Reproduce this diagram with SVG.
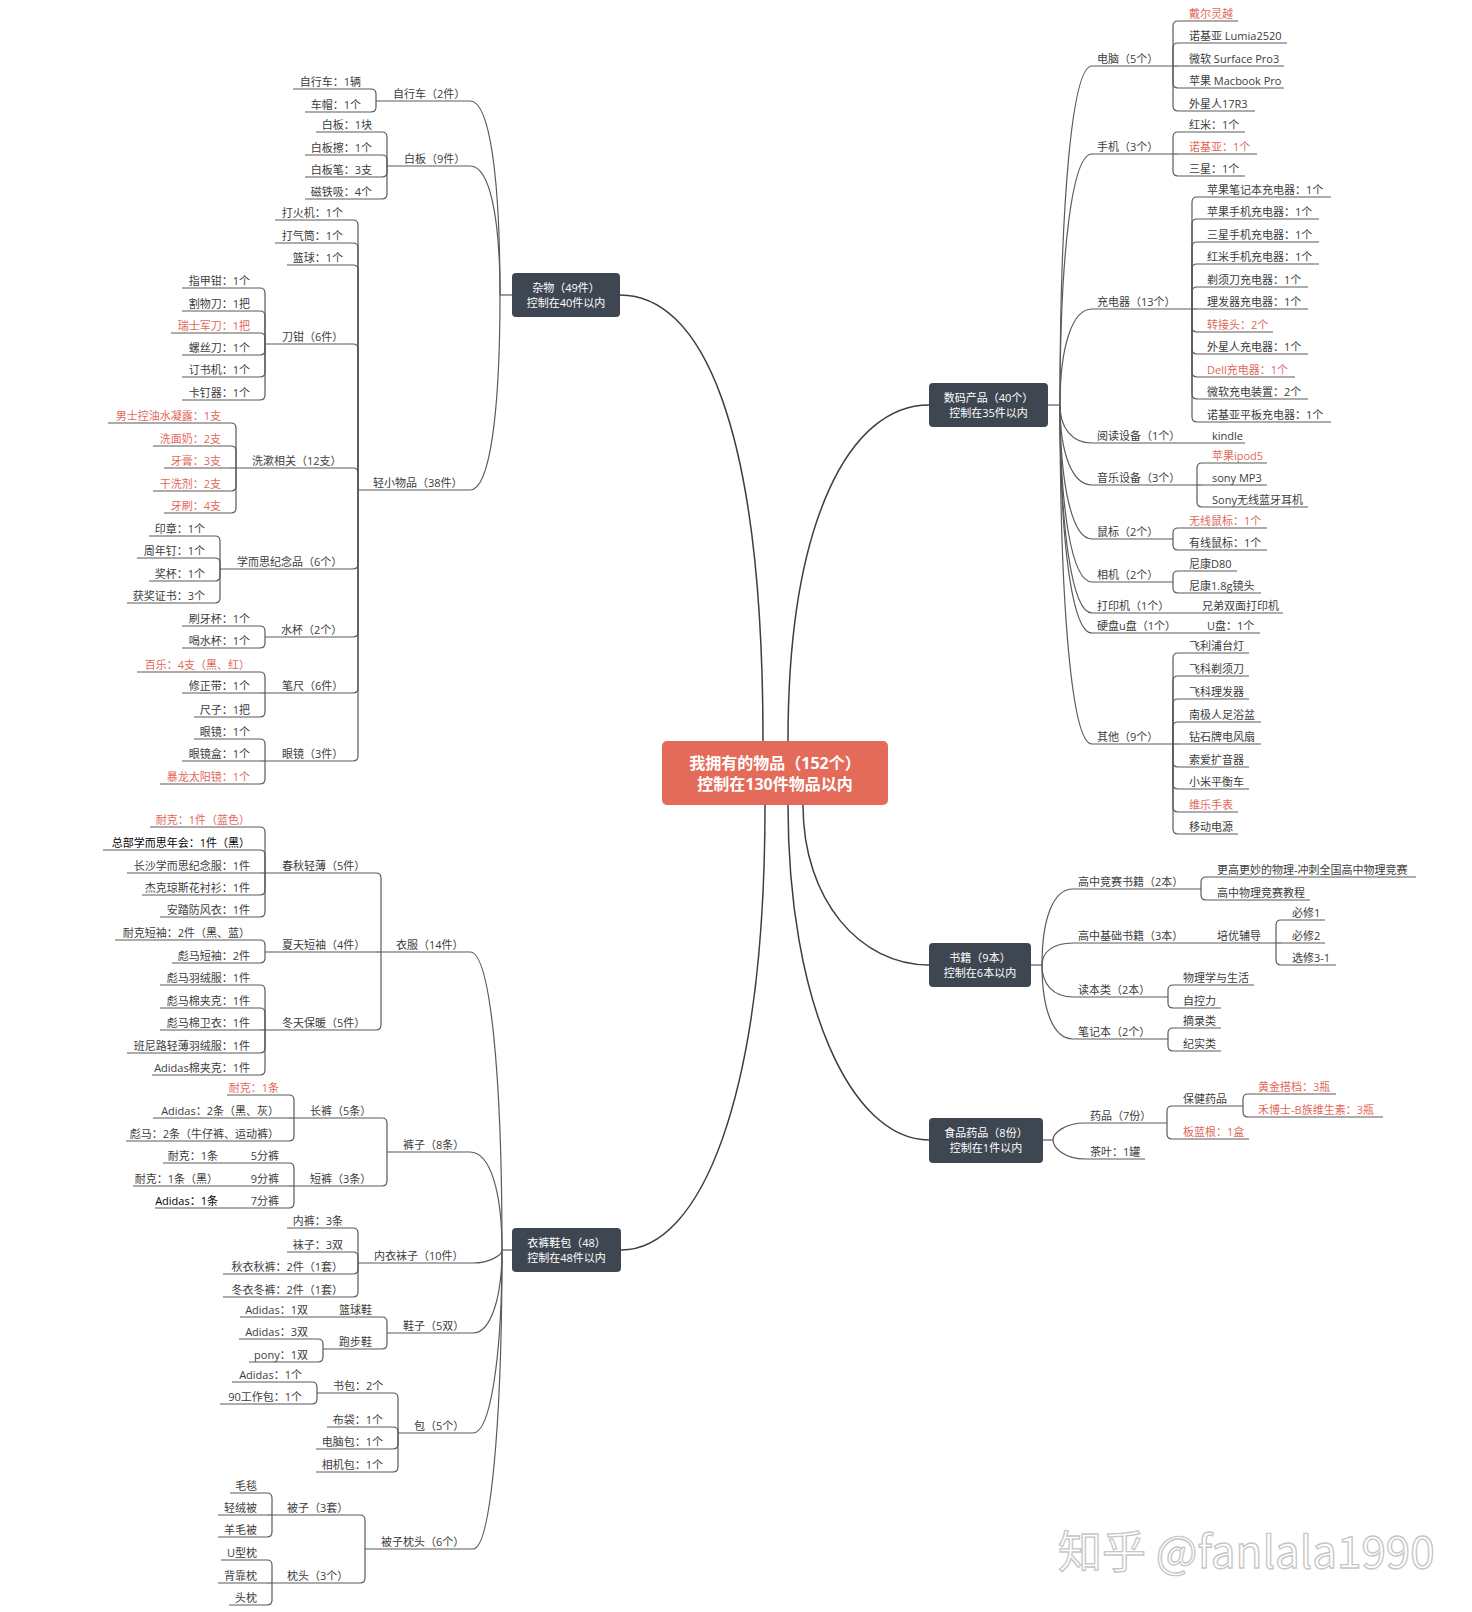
<svg xmlns="http://www.w3.org/2000/svg" width="1472" height="1612" viewBox="0 0 1472 1612">
<style>
.t{font-family:"Open Sans","Noto Sans CJK SC",sans-serif;font-size:11px;fill:#3c3c3c}
.e{text-anchor:end}
.r{fill:#E2685B}
.k{fill:#000}
.u{stroke:#5a5a5a;stroke-width:1.2;fill:none}
#connectors path{stroke:#5a5a5a;stroke-width:1.2;fill:none}
#connectors path.m{stroke:#3a3f47;stroke-width:1.5}
.box{fill:#3E4651}
.bt{font-family:"Open Sans","Noto Sans CJK SC",sans-serif;font-size:11px;fill:#fff;text-anchor:middle}
.ct{font-family:"Open Sans","Noto Sans CJK SC",sans-serif;font-size:16px;font-weight:bold;fill:#fff;text-anchor:middle}
</style>
<rect width="1472" height="1612" fill="#fff"/>
<g id="connectors">
<path class="m" d="M620,295 C700,295 763,420 763,741"/>
<path class="m" d="M621,1250 C700,1250 765,1100 765,805"/>
<path class="m" d="M929,405 C850,405 788,520 788,741"/>
<path class="m" d="M929,965 C860,965 803,900 803,805"/>
<path class="m" d="M929,1140 C850,1140 788,1000 788,805"/>
<path d="M512,295H500"/>
<path d="M470,101 C490,101 500,179 500,295"/>
<path d="M470,166 C490,166 500,218 500,295"/>
<path d="M470,490 C490,490 500,412 500,295"/>
<path d="M512,1250H502"/>
<path d="M470,952 C490,952 502,1071 502,1250"/>
<path d="M470,1152 C490,1152 502,1191 502,1250"/>
<path d="M473,1263 C490,1263 502,1255 502,1250"/>
<path d="M473,1333 C490,1333 502,1300 502,1250"/>
<path d="M473,1433 C490,1433 502,1360 502,1250"/>
<path d="M473,1549 C490,1549 502,1430 502,1250"/>
<path d="M1048,405H1060"/>
<path d="M1092,66 C1072,66 1060,202 1060,405"/>
<path d="M1092,154 C1072,154 1060,254 1060,405"/>
<path d="M1092,309 C1072,309 1060,347 1060,405"/>
<path d="M1092,443 C1072,443 1060,428 1060,405"/>
<path d="M1092,485 C1072,485 1060,453 1060,405"/>
<path d="M1092,539 C1072,539 1060,485 1060,405"/>
<path d="M1092,582 C1072,582 1060,511 1060,405"/>
<path d="M1092,613 C1072,613 1060,530 1060,405"/>
<path d="M1092,633 C1072,633 1060,542 1060,405"/>
<path d="M1092,744 C1072,744 1060,608 1060,405"/>
<path d="M1031,965H1042"/>
<path d="M1073,889 C1053,889 1042,919 1042,965"/>
<path d="M1073,943 C1053,943 1042,952 1042,965"/>
<path d="M1073,997 C1053,997 1042,984 1042,965"/>
<path d="M1073,1039 C1053,1039 1042,1009 1042,965"/>
<path d="M1043,1140H1053"/>
<path d="M1085,1123 C1065,1123 1053,1133 1053,1140"/>
<path d="M1085,1159 C1065,1159 1053,1148 1053,1140"/>
<path d="M371,89Q376,89 376,94V101"/>
<path d="M371,112Q376,112 376,107V101"/>
<path d="M382,132Q387,132 387,137V166"/>
<path d="M382,155Q387,155 387,160V166"/>
<path d="M382,177Q387,177 387,172V166"/>
<path d="M382,199Q387,199 387,194V166"/>
<path d="M353,220Q358,220 358,225V490"/>
<path d="M353,243Q358,243 358,248V490"/>
<path d="M353,265Q358,265 358,270V490"/>
<path d="M353,344Q358,344 358,349V490"/>
<path d="M353,468Q358,468 358,473V490"/>
<path d="M353,569Q358,569 358,564V490"/>
<path d="M353,637Q358,637 358,632V490"/>
<path d="M353,693Q358,693 358,688V490"/>
<path d="M353,761Q358,761 358,756V490"/>
<path d="M260,288Q265,288 265,293V344"/>
<path d="M260,311Q265,311 265,316V344"/>
<path d="M260,333Q265,333 265,338V344"/>
<path d="M260,355Q265,355 265,350V344"/>
<path d="M260,377Q265,377 265,372V344"/>
<path d="M260,400Q265,400 265,395V344"/>
<path d="M231,423Q236,423 236,428V468"/>
<path d="M231,446Q236,446 236,451V468"/>
<path d="M231,468H236"/>
<path d="M231,491Q236,491 236,486V468"/>
<path d="M231,513Q236,513 236,508V468"/>
<path d="M215,536Q220,536 220,541V569"/>
<path d="M215,558Q220,558 220,563V569"/>
<path d="M215,581Q220,581 220,576V569"/>
<path d="M215,603Q220,603 220,598V569"/>
<path d="M260,626Q265,626 265,631V637"/>
<path d="M260,648Q265,648 265,643V637"/>
<path d="M260,672Q265,672 265,677V693"/>
<path d="M260,693H265"/>
<path d="M260,717Q265,717 265,712V693"/>
<path d="M260,739Q265,739 265,744V761"/>
<path d="M260,761H265"/>
<path d="M260,784Q265,784 265,779V761"/>
<path d="M376,873Q381,873 381,878V952"/>
<path d="M376,952H381"/>
<path d="M376,1030Q381,1030 381,1025V952"/>
<path d="M260,827Q265,827 265,832V873"/>
<path d="M260,850Q265,850 265,855V873"/>
<path d="M260,873H265"/>
<path d="M260,895Q265,895 265,890V873"/>
<path d="M260,917Q265,917 265,912V873"/>
<path d="M260,940Q265,940 265,945V952"/>
<path d="M260,963Q265,963 265,958V952"/>
<path d="M260,985Q265,985 265,990V1030"/>
<path d="M260,1008Q265,1008 265,1013V1030"/>
<path d="M260,1030H265"/>
<path d="M260,1053Q265,1053 265,1048V1030"/>
<path d="M260,1075Q265,1075 265,1070V1030"/>
<path d="M382,1118Q387,1118 387,1123V1152"/>
<path d="M382,1186Q387,1186 387,1181V1152"/>
<path d="M289,1095Q294,1095 294,1100V1118"/>
<path d="M289,1118H294"/>
<path d="M289,1141Q294,1141 294,1136V1118"/>
<path d="M289,1163Q294,1163 294,1168V1186"/>
<path d="M289,1186H294"/>
<path d="M289,1208Q294,1208 294,1203V1186"/>
<path d="M353,1228Q358,1228 358,1233V1263"/>
<path d="M353,1252Q358,1252 358,1257V1263"/>
<path d="M353,1274Q358,1274 358,1269V1263"/>
<path d="M353,1297Q358,1297 358,1292V1263"/>
<path d="M382,1317Q387,1317 387,1322V1333"/>
<path d="M382,1349Q387,1349 387,1344V1333"/>
<path d="M318,1339Q323,1339 323,1344V1349"/>
<path d="M318,1362Q323,1362 323,1357V1349"/>
<path d="M393,1393Q398,1393 398,1398V1433"/>
<path d="M393,1427Q398,1427 398,1432V1433"/>
<path d="M393,1449Q398,1449 398,1444V1433"/>
<path d="M393,1472Q398,1472 398,1467V1433"/>
<path d="M312,1382Q317,1382 317,1387V1393"/>
<path d="M312,1404Q317,1404 317,1399V1393"/>
<path d="M360,1515Q365,1515 365,1520V1549"/>
<path d="M360,1583Q365,1583 365,1578V1549"/>
<path d="M267,1493Q272,1493 272,1498V1515"/>
<path d="M267,1515H272"/>
<path d="M267,1537Q272,1537 272,1532V1515"/>
<path d="M267,1560Q272,1560 272,1565V1583"/>
<path d="M267,1583H272"/>
<path d="M267,1605Q272,1605 272,1600V1583"/>
<path d="M1178,21Q1173,21 1173,26V66"/>
<path d="M1178,43Q1173,43 1173,48V66"/>
<path d="M1178,66H1173"/>
<path d="M1178,88Q1173,88 1173,83V66"/>
<path d="M1178,111Q1173,111 1173,106V66"/>
<path d="M1178,132Q1173,132 1173,137V154"/>
<path d="M1178,154H1173"/>
<path d="M1178,176Q1173,176 1173,171V154"/>
<path d="M1197,197Q1192,197 1192,202V309"/>
<path d="M1197,219Q1192,219 1192,224V309"/>
<path d="M1197,242Q1192,242 1192,247V309"/>
<path d="M1197,264Q1192,264 1192,269V309"/>
<path d="M1197,287Q1192,287 1192,292V309"/>
<path d="M1197,309H1192"/>
<path d="M1197,332Q1192,332 1192,327V309"/>
<path d="M1197,354Q1192,354 1192,349V309"/>
<path d="M1197,377Q1192,377 1192,372V309"/>
<path d="M1197,399Q1192,399 1192,394V309"/>
<path d="M1197,422Q1192,422 1192,417V309"/>
<path d="M1202,463Q1197,463 1197,468V485"/>
<path d="M1202,485H1197"/>
<path d="M1202,507Q1197,507 1197,502V485"/>
<path d="M1178,528Q1173,528 1173,533V539"/>
<path d="M1178,550Q1173,550 1173,545V539"/>
<path d="M1178,571Q1173,571 1173,576V582"/>
<path d="M1178,593Q1173,593 1173,588V582"/>
<path d="M1178,653Q1173,653 1173,658V744"/>
<path d="M1178,676Q1173,676 1173,681V744"/>
<path d="M1178,699Q1173,699 1173,704V744"/>
<path d="M1178,722Q1173,722 1173,727V744"/>
<path d="M1178,744H1173"/>
<path d="M1178,767Q1173,767 1173,762V744"/>
<path d="M1178,789Q1173,789 1173,784V744"/>
<path d="M1178,812Q1173,812 1173,807V744"/>
<path d="M1178,834Q1173,834 1173,829V744"/>
<path d="M1206,877Q1201,877 1201,882V889"/>
<path d="M1206,900Q1201,900 1201,895V889"/>
<path d="M1281,920Q1276,920 1276,925V943"/>
<path d="M1281,943H1276"/>
<path d="M1281,965Q1276,965 1276,960V943"/>
<path d="M1173,985Q1168,985 1168,990V997"/>
<path d="M1173,1008Q1168,1008 1168,1003V997"/>
<path d="M1173,1028Q1168,1028 1168,1033V1039"/>
<path d="M1173,1051Q1168,1051 1168,1046V1039"/>
<path d="M1172,1106Q1167,1106 1167,1111V1123"/>
<path d="M1172,1139Q1167,1139 1167,1134V1123"/>
<path d="M1248,1094Q1243,1094 1243,1099V1106"/>
<path d="M1248,1117Q1243,1117 1243,1112V1106"/>
</g>

<g id="root"><rect x="662" y="741" width="226" height="64" rx="5" fill="#E46B5A"/><text class="ct" x="775" y="769">我拥有的物品（152个）</text><text class="ct" x="775" y="790">控制在130件物品以内</text></g>
<g id="n-zawu"><rect class="box" x="512" y="273" width="108" height="44" rx="4"/><text class="bt" x="566" y="292">杂物（49件）</text><text class="bt" x="566" y="307">控制在40件以内</text></g>
<g id="n-yiku"><rect class="box" x="512" y="1228" width="109" height="44" rx="4"/><text class="bt" x="566.5" y="1247">衣裤鞋包（48）</text><text class="bt" x="566.5" y="1262">控制在48件以内</text></g>
<g id="n-shuma"><rect class="box" x="929" y="383" width="119" height="44" rx="4"/><text class="bt" x="988.5" y="402">数码产品（40个）</text><text class="bt" x="988.5" y="417">控制在35件以内</text></g>
<g id="n-shuji"><rect class="box" x="929" y="943" width="102" height="44" rx="4"/><text class="bt" x="980" y="962">书籍（9本）</text><text class="bt" x="980" y="977">控制在6本以内</text></g>
<g id="n-shipin"><rect class="box" x="929" y="1118" width="114" height="45" rx="4"/><text class="bt" x="986" y="1137">食品药品（8份）</text><text class="bt" x="986" y="1152">控制在1件以内</text></g>

<g id="n-bike"><text class="t" x="393" y="98">自行车（2件）</text><path class="u" d="M376,101H470"/></g>
<g id="n-bike1"><text class="t e" x="361" y="86">自行车：1辆</text><path class="u" d="M293,89H371"/></g>
<g id="n-bike2"><text class="t e" x="361" y="109">车帽：1个</text><path class="u" d="M305,112H371"/></g>
<g id="n-wb"><text class="t" x="404" y="163">白板（9件）</text><path class="u" d="M387,166H470"/></g>
<g id="n-wb1"><text class="t e" x="372" y="129">白板：1块</text><path class="u" d="M316,132H382"/></g>
<g id="n-wb2"><text class="t e" x="372" y="152">白板擦：1个</text><path class="u" d="M305,155H382"/></g>
<g id="n-wb3"><text class="t e" x="372" y="174">白板笔：3支</text><path class="u" d="M305,177H382"/></g>
<g id="n-wb4"><text class="t e" x="372" y="196">磁铁吸：4个</text><path class="u" d="M305,199H382"/></g>
<g id="n-qx"><text class="t" x="373" y="487">轻小物品（38件）</text><path class="u" d="M358,490H470"/></g>
<g id="n-qx1"><text class="t e" x="343" y="217">打火机：1个</text><path class="u" d="M275,220H353"/></g>
<g id="n-qx2"><text class="t e" x="343" y="240">打气筒：1个</text><path class="u" d="M275,243H353"/></g>
<g id="n-qx3"><text class="t e" x="343" y="262">篮球：1个</text><path class="u" d="M287,265H353"/></g>
<g id="n-dq"><text class="t" x="282" y="341">刀钳（6件）</text><path class="u" d="M265,344H353"/></g>
<g id="n-dq1"><text class="t e" x="250" y="285">指甲钳：1个</text><path class="u" d="M182,288H260"/></g>
<g id="n-dq2"><text class="t e" x="250" y="308">割物刀：1把</text><path class="u" d="M182,311H260"/></g>
<g id="n-dq3"><text class="t e r" x="250" y="330">瑞士军刀：1把</text><path class="u" d="M171,333H260"/></g>
<g id="n-dq4"><text class="t e" x="250" y="352">螺丝刀：1个</text><path class="u" d="M182,355H260"/></g>
<g id="n-dq5"><text class="t e" x="250" y="374">订书机：1个</text><path class="u" d="M182,377H260"/></g>
<g id="n-dq6"><text class="t e" x="250" y="397">卡钉器：1个</text><path class="u" d="M182,400H260"/></g>
<g id="n-xs"><text class="t" x="252" y="465">洗漱相关（12支）</text><path class="u" d="M236,468H353"/></g>
<g id="n-xs1"><text class="t e r" x="221" y="420">男士控油水凝露：1支</text><path class="u" d="M108,423H231"/></g>
<g id="n-xs2"><text class="t e r" x="221" y="443">洗面奶：2支</text><path class="u" d="M153,446H231"/></g>
<g id="n-xs3"><text class="t e r" x="221" y="465">牙膏：3支</text><path class="u" d="M164,468H231"/></g>
<g id="n-xs4"><text class="t e r" x="221" y="488">干洗剂：2支</text><path class="u" d="M153,491H231"/></g>
<g id="n-xs5"><text class="t e r" x="221" y="510">牙刷：4支</text><path class="u" d="M164,513H231"/></g>
<g id="n-xe"><text class="t" x="237" y="566">学而思纪念品（6个）</text><path class="u" d="M220,569H353"/></g>
<g id="n-xe1"><text class="t e" x="205" y="533">印章：1个</text><path class="u" d="M149,536H215"/></g>
<g id="n-xe2"><text class="t e" x="205" y="555">周年钉：1个</text><path class="u" d="M137,558H215"/></g>
<g id="n-xe3"><text class="t e" x="205" y="578">奖杯：1个</text><path class="u" d="M149,581H215"/></g>
<g id="n-xe4"><text class="t e" x="205" y="600">获奖证书：3个</text><path class="u" d="M127,603H215"/></g>
<g id="n-sb"><text class="t" x="281" y="634">水杯（2个）</text><path class="u" d="M265,637H353"/></g>
<g id="n-sb1"><text class="t e" x="250" y="623">刷牙杯：1个</text><path class="u" d="M182,626H260"/></g>
<g id="n-sb2"><text class="t e" x="250" y="645">喝水杯：1个</text><path class="u" d="M182,648H260"/></g>
<g id="n-bc"><text class="t" x="282" y="690">笔尺（6件）</text><path class="u" d="M265,693H353"/></g>
<g id="n-bc1"><text class="t e r" x="250" y="669">百乐：4支（黑、红）</text><path class="u" d="M137,672H260"/></g>
<g id="n-bc2"><text class="t e" x="250" y="690">修正带：1个</text><path class="u" d="M182,693H260"/></g>
<g id="n-bc3"><text class="t e" x="250" y="714">尺子：1把</text><path class="u" d="M194,717H260"/></g>
<g id="n-yj"><text class="t" x="282" y="758">眼镜（3件）</text><path class="u" d="M265,761H353"/></g>
<g id="n-yj1"><text class="t e" x="250" y="736">眼镜：1个</text><path class="u" d="M194,739H260"/></g>
<g id="n-yj2"><text class="t e" x="250" y="758">眼镜盒：1个</text><path class="u" d="M182,761H260"/></g>
<g id="n-yj3"><text class="t e r" x="250" y="781">暴龙太阳镜：1个</text><path class="u" d="M160,784H260"/></g>

<g id="n-yf"><text class="t" x="396" y="949">衣服（14件）</text><path class="u" d="M381,952H470"/></g>
<g id="n-cq"><text class="t" x="282" y="870">春秋轻薄（5件）</text><path class="u" d="M265,873H376"/></g>
<g id="n-cq1"><text class="t e r" x="250" y="824">耐克：1件（蓝色）</text><path class="u" d="M150,827H260"/></g>
<g id="n-cq2"><text class="t e k" x="250" y="847">总部学而思年会：1件（黑）</text><path class="u" d="M103,850H260"/></g>
<g id="n-cq3"><text class="t e" x="250" y="870">长沙学而思纪念服：1件</text><path class="u" d="M127,873H260"/></g>
<g id="n-cq4"><text class="t e" x="250" y="892">杰克琼斯花衬衫：1件</text><path class="u" d="M142,895H260"/></g>
<g id="n-cq5"><text class="t e" x="250" y="914">安踏防风衣：1件</text><path class="u" d="M160,917H260"/></g>
<g id="n-xt"><text class="t" x="282" y="949">夏天短袖（4件）</text><path class="u" d="M265,952H376"/></g>
<g id="n-xt1"><text class="t e" x="250" y="937">耐克短袖：2件（黑、蓝）</text><path class="u" d="M115,940H260"/></g>
<g id="n-xt2"><text class="t e" x="250" y="960">彪马短袖：2件</text><path class="u" d="M172,963H260"/></g>
<g id="n-dt"><text class="t" x="282" y="1027">冬天保暖（5件）</text><path class="u" d="M265,1030H376"/></g>
<g id="n-dt1"><text class="t e" x="250" y="982">彪马羽绒服：1件</text><path class="u" d="M160,985H260"/></g>
<g id="n-dt2"><text class="t e" x="250" y="1005">彪马棉夹克：1件</text><path class="u" d="M160,1008H260"/></g>
<g id="n-dt3"><text class="t e" x="250" y="1027">彪马棉卫衣：1件</text><path class="u" d="M160,1030H260"/></g>
<g id="n-dt4"><text class="t e" x="250" y="1050">班尼路轻薄羽绒服：1件</text><path class="u" d="M127,1053H260"/></g>
<g id="n-dt5"><text class="t e" x="250" y="1072">Adidas棉夹克：1件</text><path class="u" d="M152,1075H260"/></g>
<g id="n-kz"><text class="t" x="403" y="1149">裤子（8条）</text><path class="u" d="M387,1152H470"/></g>
<g id="n-ck"><text class="t" x="310" y="1115">长裤（5条）</text><path class="u" d="M294,1118H382"/></g>
<g id="n-ck1"><text class="t e r" x="279" y="1092">耐克：1条</text><path class="u" d="M227,1095H289"/></g>
<g id="n-ck2"><text class="t e" x="279" y="1115">Adidas：2条（黑、灰）</text><path class="u" d="M153,1118H289"/></g>
<g id="n-ck3"><text class="t e" x="279" y="1138">彪马：2条（牛仔裤、运动裤）</text><path class="u" d="M126,1141H289"/></g>
<g id="n-dk"><text class="t" x="310" y="1183">短裤（3条）</text><path class="u" d="M294,1186H382"/></g>
<g id="n-dk1"><text class="t e" x="218" y="1160">耐克：1条</text><text class="t e" x="279" y="1160">5分裤</text><path class="u" d="M163,1163H289"/></g>
<g id="n-dk2"><text class="t e" x="218" y="1183">耐克：1条（黑）</text><text class="t e" x="279" y="1183">9分裤</text><path class="u" d="M133,1186H289"/></g>
<g id="n-dk3"><text class="t e k" x="218" y="1205">Adidas：1条</text><text class="t e" x="279" y="1205">7分裤</text><path class="u" d="M155,1208H289"/></g>
<g id="n-nywz"><text class="t" x="374" y="1260">内衣袜子（10件）</text><path class="u" d="M358,1263H473"/></g>
<g id="n-nw1"><text class="t e" x="343" y="1225">内裤：3条</text><path class="u" d="M287,1228H353"/></g>
<g id="n-nw2"><text class="t e" x="343" y="1249">袜子：3双</text><path class="u" d="M287,1252H353"/></g>
<g id="n-nw3"><text class="t e" x="343" y="1271">秋衣秋裤：2件（1套）</text><path class="u" d="M223,1274H353"/></g>
<g id="n-nw4"><text class="t e" x="343" y="1294">冬衣冬裤：2件（1套）</text><path class="u" d="M223,1297H353"/></g>
<g id="n-xz"><text class="t" x="403" y="1330">鞋子（5双）</text><path class="u" d="M387,1333H473"/></g>
<g id="n-lqx"><text class="t e" x="308" y="1314">Adidas：1双</text><text class="t e" x="372" y="1314">篮球鞋</text><path class="u" d="M240,1317H382"/></g>
<g id="n-pbx"><text class="t e" x="372" y="1346">跑步鞋</text><path class="u" d="M323,1349H382"/></g>
<g id="n-pb1"><text class="t e" x="308" y="1336">Adidas：3双</text><path class="u" d="M239,1339H318"/></g>
<g id="n-pb2"><text class="t e" x="308" y="1359">pony：1双</text><path class="u" d="M249,1362H318"/></g>
<g id="n-bao"><text class="t" x="414" y="1430">包（5个）</text><path class="u" d="M398,1433H473"/></g>
<g id="n-sbao"><text class="t" x="333" y="1390">书包：2个</text><path class="u" d="M317,1393H393"/></g>
<g id="n-sb1x"><text class="t e" x="302" y="1379">Adidas：1个</text><path class="u" d="M232,1382H312"/></g>
<g id="n-sb2x"><text class="t e" x="302" y="1401">90工作包：1个</text><path class="u" d="M220,1404H312"/></g>
<g id="n-bd"><text class="t e" x="383" y="1424">布袋：1个</text><path class="u" d="M327,1427H393"/></g>
<g id="n-dnb"><text class="t e" x="383" y="1446">电脑包：1个</text><path class="u" d="M316,1449H393"/></g>
<g id="n-xjb"><text class="t e" x="383" y="1469">相机包：1个</text><path class="u" d="M316,1472H393"/></g>
<g id="n-bzzt"><text class="t" x="381" y="1546">被子枕头（6个）</text><path class="u" d="M365,1549H473"/></g>
<g id="n-bz"><text class="t" x="287" y="1512">被子（3套）</text><path class="u" d="M272,1515H360"/></g>
<g id="n-bz1"><text class="t e" x="257" y="1490">毛毯</text><path class="u" d="M230,1493H267"/></g>
<g id="n-bz2"><text class="t e" x="257" y="1512">轻绒被</text><path class="u" d="M218,1515H267"/></g>
<g id="n-bz3"><text class="t e" x="257" y="1534">羊毛被</text><path class="u" d="M218,1537H267"/></g>
<g id="n-zt"><text class="t" x="287" y="1580">枕头（3个）</text><path class="u" d="M272,1583H360"/></g>
<g id="n-zt1"><text class="t e" x="257" y="1557">U型枕</text><path class="u" d="M221,1560H267"/></g>
<g id="n-zt2"><text class="t e" x="257" y="1580">背靠枕</text><path class="u" d="M218,1583H267"/></g>
<g id="n-zt3"><text class="t e" x="257" y="1602">头枕</text><path class="u" d="M229,1605H267"/></g>

<g id="n-dn"><text class="t" x="1097" y="63">电脑（5个）</text><path class="u" d="M1092,66H1173"/></g>
<g id="n-dn1"><text class="t r" x="1189" y="18">戴尔灵越</text><path class="u" d="M1178,21H1238"/></g>
<g id="n-dn2"><text class="t" x="1189" y="40">诺基亚 Lumia2520</text><path class="u" d="M1178,43H1287"/></g>
<g id="n-dn3"><text class="t" x="1189" y="63">微软 Surface Pro3</text><path class="u" d="M1178,66H1284"/></g>
<g id="n-dn4"><text class="t" x="1189" y="85">苹果 Macbook Pro</text><path class="u" d="M1178,88H1284"/></g>
<g id="n-dn5"><text class="t" x="1189" y="108">外星人17R3</text><path class="u" d="M1178,111H1255"/></g>
<g id="n-sj"><text class="t" x="1097" y="151">手机（3个）</text><path class="u" d="M1092,154H1173"/></g>
<g id="n-sj1"><text class="t" x="1189" y="129">红米：1个</text><path class="u" d="M1178,132H1245"/></g>
<g id="n-sj2"><text class="t r" x="1189" y="151">诺基亚：1个</text><path class="u" d="M1178,154H1257"/></g>
<g id="n-sj3"><text class="t" x="1189" y="173">三星：1个</text><path class="u" d="M1178,176H1245"/></g>
<g id="n-cdq"><text class="t" x="1097" y="306">充电器（13个）</text><path class="u" d="M1092,309H1192"/></g>
<g id="n-cd1"><text class="t" x="1207" y="194">苹果笔记本充电器：1个</text><path class="u" d="M1197,197H1331"/></g>
<g id="n-cd2"><text class="t" x="1207" y="216">苹果手机充电器：1个</text><path class="u" d="M1197,219H1319"/></g>
<g id="n-cd3"><text class="t" x="1207" y="239">三星手机充电器：1个</text><path class="u" d="M1197,242H1319"/></g>
<g id="n-cd4"><text class="t" x="1207" y="261">红米手机充电器：1个</text><path class="u" d="M1197,264H1319"/></g>
<g id="n-cd5"><text class="t" x="1207" y="284">剃须刀充电器：1个</text><path class="u" d="M1197,287H1308"/></g>
<g id="n-cd6"><text class="t" x="1207" y="306">理发器充电器：1个</text><path class="u" d="M1197,309H1308"/></g>
<g id="n-cd7"><text class="t r" x="1207" y="329">转接头：2个</text><path class="u" d="M1197,332H1273"/></g>
<g id="n-cd8"><text class="t" x="1207" y="351">外星人充电器：1个</text><path class="u" d="M1197,354H1308"/></g>
<g id="n-cd9"><text class="t r" x="1207" y="374">Dell充电器：1个</text><path class="u" d="M1197,377H1295"/></g>
<g id="n-cd10"><text class="t" x="1207" y="396">微软充电装置：2个</text><path class="u" d="M1197,399H1308"/></g>
<g id="n-cd11"><text class="t" x="1207" y="419">诺基亚平板充电器：1个</text><path class="u" d="M1197,422H1331"/></g>
<g id="n-yd"><text class="t" x="1097" y="440">阅读设备（1个）</text><text class="t" x="1212" y="440">kindle</text><path class="u" d="M1092,443H1245"/></g>
<g id="n-yy"><text class="t" x="1097" y="482">音乐设备（3个）</text><path class="u" d="M1092,485H1197"/></g>
<g id="n-yy1"><text class="t r" x="1212" y="460">苹果ipod5</text><path class="u" d="M1202,463H1267"/></g>
<g id="n-yy2"><text class="t" x="1212" y="482">sony MP3</text><path class="u" d="M1202,485H1267"/></g>
<g id="n-yy3"><text class="t" x="1212" y="504">Sony无线蓝牙耳机</text><path class="u" d="M1202,507H1308"/></g>
<g id="n-sbiao"><text class="t" x="1097" y="536">鼠标（2个）</text><path class="u" d="M1092,539H1173"/></g>
<g id="n-sbiao1"><text class="t r" x="1189" y="525">无线鼠标：1个</text><path class="u" d="M1178,528H1267"/></g>
<g id="n-sbiao2"><text class="t" x="1189" y="547">有线鼠标：1个</text><path class="u" d="M1178,550H1267"/></g>
<g id="n-xj"><text class="t" x="1097" y="579">相机（2个）</text><path class="u" d="M1092,582H1173"/></g>
<g id="n-xj1"><text class="t" x="1189" y="568">尼康D80</text><path class="u" d="M1178,571H1237"/></g>
<g id="n-xj2"><text class="t" x="1189" y="590">尼康1.8g镜头</text><path class="u" d="M1178,593H1261"/></g>
<g id="n-dyj"><text class="t" x="1097" y="610">打印机（1个）</text><text class="t" x="1202" y="610">兄弟双面打印机</text><path class="u" d="M1092,613H1283"/></g>
<g id="n-yp"><text class="t" x="1097" y="630">硬盘u盘（1个）</text><text class="t" x="1207" y="630">U盘：1个</text><path class="u" d="M1092,633H1260"/></g>
<g id="n-qt"><text class="t" x="1097" y="741">其他（9个）</text><path class="u" d="M1092,744H1173"/></g>
<g id="n-qt1"><text class="t" x="1189" y="650">飞利浦台灯</text><path class="u" d="M1178,653H1249"/></g>
<g id="n-qt2"><text class="t" x="1189" y="673">飞科剃须刀</text><path class="u" d="M1178,676H1249"/></g>
<g id="n-qt3"><text class="t" x="1189" y="696">飞科理发器</text><path class="u" d="M1178,699H1249"/></g>
<g id="n-qt4"><text class="t" x="1189" y="719">南极人足浴盆</text><path class="u" d="M1178,722H1261"/></g>
<g id="n-qt5"><text class="t" x="1189" y="741">钻石牌电风扇</text><path class="u" d="M1178,744H1261"/></g>
<g id="n-qt6"><text class="t" x="1189" y="764">索爱扩音器</text><path class="u" d="M1178,767H1249"/></g>
<g id="n-qt7"><text class="t" x="1189" y="786">小米平衡车</text><path class="u" d="M1178,789H1249"/></g>
<g id="n-qt8"><text class="t r" x="1189" y="809">维乐手表</text><path class="u" d="M1178,812H1238"/></g>
<g id="n-qt9"><text class="t" x="1189" y="831">移动电源</text><path class="u" d="M1178,834H1238"/></g>

<g id="n-gzjs"><text class="t" x="1078" y="886">高中竞赛书籍（2本）</text><path class="u" d="M1073,889H1201"/></g>
<g id="n-gzjs1"><text class="t" x="1217" y="874">更高更妙的物理-冲刺全国高中物理竞赛</text><path class="u" d="M1206,877H1416"/></g>
<g id="n-gzjs2"><text class="t" x="1217" y="897">高中物理竞赛教程</text><path class="u" d="M1206,900H1310"/></g>
<g id="n-gzjc"><text class="t" x="1078" y="940">高中基础书籍（3本）</text><text class="t" x="1217" y="940">培优辅导</text><path class="u" d="M1073,943H1276"/></g>
<g id="n-bx1"><text class="t" x="1292" y="917">必修1</text><path class="u" d="M1281,920H1325"/></g>
<g id="n-bx2"><text class="t" x="1292" y="940">必修2</text><path class="u" d="M1281,943H1325"/></g>
<g id="n-bx3"><text class="t" x="1292" y="962">选修3-1</text><path class="u" d="M1281,965H1336"/></g>
<g id="n-db"><text class="t" x="1078" y="994">读本类（2本）</text><path class="u" d="M1073,997H1168"/></g>
<g id="n-db1"><text class="t" x="1183" y="982">物理学与生活</text><path class="u" d="M1173,985H1254"/></g>
<g id="n-db2"><text class="t" x="1183" y="1005">自控力</text><path class="u" d="M1173,1008H1221"/></g>
<g id="n-bjb"><text class="t" x="1078" y="1036">笔记本（2个）</text><path class="u" d="M1073,1039H1168"/></g>
<g id="n-bjb1"><text class="t" x="1183" y="1025">摘录类</text><path class="u" d="M1173,1028H1221"/></g>
<g id="n-bjb2"><text class="t" x="1183" y="1048">纪实类</text><path class="u" d="M1173,1051H1221"/></g>

<g id="n-yp7"><text class="t" x="1090" y="1120">药品（7份）</text><path class="u" d="M1085,1123H1167"/></g>
<g id="n-bjyp"><text class="t" x="1183" y="1103">保健药品</text><path class="u" d="M1172,1106H1243"/></g>
<g id="n-bj1"><text class="t r" x="1258" y="1091">黄金搭档：3瓶</text><path class="u" d="M1248,1094H1336"/></g>
<g id="n-bj2"><text class="t r" x="1258" y="1114">禾博士-B族维生素：3瓶</text><path class="u" d="M1248,1117H1383"/></g>
<g id="n-blg"><text class="t r" x="1183" y="1136">板蓝根：1盒</text><path class="u" d="M1172,1139H1249"/></g>
<g id="n-cy"><text class="t" x="1090" y="1156">茶叶：1罐</text><path class="u" d="M1085,1159H1145"/></g>

<text x="1058" y="1568" font-family="Noto Sans CJK SC, sans-serif" font-size="44" fill="#fff" stroke="#c6c6c6" stroke-width="1.3">知乎 @fanlala1990</text>
</svg>
